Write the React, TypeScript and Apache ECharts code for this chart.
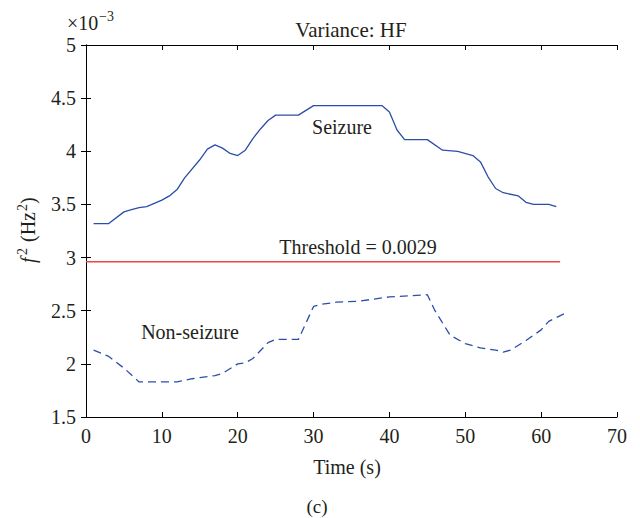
import React, { useEffect, useRef } from "react";
import * as echarts from "echarts";

const seizure: [number, number][] = [
  [1, 3.32], [3, 3.32], [5, 3.43], [6, 3.45], [7, 3.47], [8, 3.48], [9, 3.51], [10, 3.54],
  [11, 3.58], [12, 3.64], [13, 3.75], [15, 3.92], [16, 4.02], [17, 4.06], [18, 4.03],
  [19, 3.98], [20, 3.96], [21, 4.01], [22, 4.12], [23, 4.21], [24, 4.29], [25, 4.34],
  [28, 4.34], [30, 4.43], [39, 4.43], [40, 4.37], [41, 4.2], [42, 4.11], [45, 4.11],
  [47, 4.01], [49, 4.0], [51, 3.96], [52, 3.9], [53, 3.76], [54, 3.65], [55, 3.61],
  [57, 3.58], [58, 3.52], [59, 3.5], [61, 3.5], [62, 3.48],
];

const nonSeizure: [number, number][] = [
  [1, 2.13], [3, 2.07], [5, 1.96], [7, 1.83], [12, 1.83], [14, 1.86], [17, 1.89], [18, 1.91],
  [20, 2.0], [21, 2.01], [22, 2.05], [24, 2.2], [25, 2.23], [28, 2.23], [30, 2.54], [31, 2.56],
  [33, 2.58], [36, 2.59], [40, 2.63], [45, 2.65], [46, 2.5], [48, 2.27], [50, 2.19],
  [52, 2.15], [54, 2.13], [55, 2.11], [56, 2.13], [58, 2.22], [60, 2.32], [61, 2.4], [63, 2.47],
];

const thresholdValue = 2.96;
const thresholdSpan = [0, 62.5];

const xTicks = { min: 0, max: 70, interval: 10 };
const yTicks = { min: 1.5, max: 5, interval: 0.5 };

const FONT = "'Liberation Serif', 'DejaVu Serif', serif";
const TXT = "#231f20";
const FS = 20;

export default function App() {
  const ref = useRef<HTMLDivElement>(null);
  useEffect(() => {
    if (!ref.current) return;
    const chart = echarts.init(ref.current, undefined, { renderer: "svg" });
    const axisCommon = {
      type: "value" as const,
      axisLine: { show: true, lineStyle: { color: "#000", width: 1 } },
      axisTick: { show: true, inside: true, length: 5, lineStyle: { color: "#000" } },
      splitLine: { show: false },
    };
    const txt = (
      x: number,
      y: number,
      text: string,
      size = FS,
      align = "center",
      italic = false
    ) => ({
      type: "text",
      x,
      y,
      style: {
        text,
        fontSize: size,
        fontFamily: FONT,
        fontStyle: italic ? "italic" : "normal",
        fill: TXT,
        align,
        verticalAlign: "middle",
      },
    });
    chart.setOption({
      animation: false,
      backgroundColor: "#fff",
      grid: { left: 86, right: 23, top: 45, bottom: 101 },
      xAxis: [
        {
          ...axisCommon,
          ...xTicks,
          position: "bottom",
          axisLabel: { color: TXT, fontFamily: FONT, fontSize: FS, margin: 9 },
        },
        {
          ...axisCommon,
          ...xTicks,
          position: "top",
          axisLabel: { show: false },
        },
      ],
      yAxis: [
        {
          ...axisCommon,
          ...yTicks,
          position: "left",
          axisLabel: { color: TXT, fontFamily: FONT, fontSize: FS, margin: 10 },
        },
        {
          ...axisCommon,
          ...yTicks,
          position: "right",
          axisLabel: { show: false },
        },
      ],
      series: [
        {
          type: "line",
          data: seizure,
          symbol: "none",
          lineStyle: { color: "#2b4ea8", width: 1.3 },
        },
        {
          type: "line",
          data: nonSeizure,
          symbol: "none",
          lineStyle: { color: "#2b4ea8", width: 1.3, type: [8, 5] },
        },
        {
          type: "line",
          data: thresholdSpan.map((x) => [x, thresholdValue]),
          symbol: "none",
          lineStyle: { color: "#ea4646", width: 1.6 },
        },
      ],
      graphic: [
        txt(351, 30, "Variance: HF", 21),
        txt(67, 23, "×10", FS, "left"),
        txt(99, 16, "−3", 14, "left"),
        {
          type: "group",
          x: 28,
          y: 231,
          rotation: Math.PI / 2,
          children: [
            txt(-32, 0, "f", FS, "left", true),
            txt(-24, -6, "2", 14, "left"),
            txt(-16, 0, " (Hz", FS, "left"),
            txt(20, -6, "2", 14, "left"),
            txt(27, 0, ")", FS, "left"),
          ],
        },
        txt(347, 467, "Time (s)"),
        txt(317, 506, "(c)", 19),
        txt(342, 127, "Seizure"),
        txt(358, 247, "Threshold = 0.0029"),
        txt(190, 332, "Non-seizure"),
      ],
    });
    return () => chart.dispose();
  }, []);
  return <div ref={ref} style={{ width: 640, height: 518, position: "absolute", left: 0, top: 0 }} />;
}
